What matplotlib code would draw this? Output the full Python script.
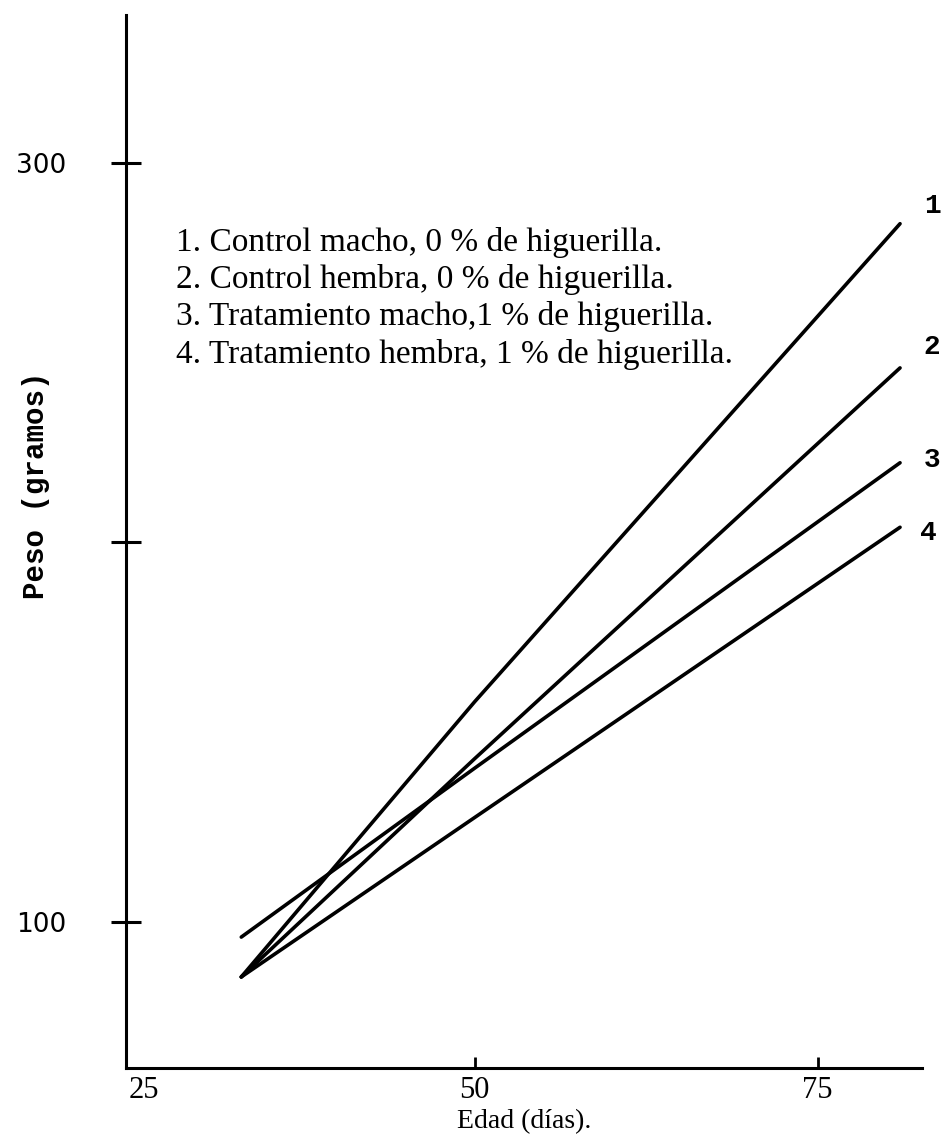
import matplotlib
matplotlib.use("Agg")
import matplotlib.pyplot as plt
import matplotlib.transforms as mtransforms

# datos (edad en dias, peso en gramos)
dias = [33, 50, 81]
control_macho = [85.5, 158, 284]
control_hembra = [85.5, 143, 246]
trat_macho = [96, 140.5, 221]
trat_hembra = [85.5, 127.5, 204]

series = [control_macho, control_hembra, trat_macho, trat_hembra]
etiquetas_lineas = ["1", "2", "3", "4"]

leyenda = ["1. Control macho, 0 % de higuerilla.",
           "2. Control hembra, 0 % de higuerilla.",
           "3. Tratamiento macho,1 % de higuerilla.",
           "4. Tratamiento hembra, 1 % de higuerilla."]

xticks = [25, 50, 75]
yticks = [100, 200, 300]
ytick_labels = ["100", "", "300"]

W, H = 944, 1146
fig = plt.figure(figsize=(W / 100, H / 100), dpi=100)

# ejes en pixeles del original
izq, der, arriba, abajo = 126, 922, 15, 1068
ax = fig.add_axes([izq / W, 1 - abajo / H, (der - izq) / W, (abajo - arriba) / H])

for valores in series:
    ax.plot(dias, valores, color="black", lw=2.6, solid_capstyle="round")

# numeros al final de cada linea
desplaz = [(32, 18), (32, 21), (32, 3), (28, -6)]
for valores, lbl, (dx, dy) in zip(series, etiquetas_lineas, desplaz):
    ax.annotate(lbl, xy=(dias[-1], valores[-1]), xytext=(dx, dy),
                textcoords="offset pixels", ha="center", va="center",
                fontsize=20, family="Liberation Mono", fontweight="bold")

ax.set_xlim(24.6, 82.6)
ax.set_ylim(61.5, 339)

for s in ["top", "right"]:
    ax.spines[s].set_visible(False)
for s in ["left", "bottom"]:
    ax.spines[s].set_linewidth(2.2)

ax.set_yticks(yticks)
ax.set_yticklabels(ytick_labels, fontsize=19, family="DejaVu Sans")
ax.tick_params(axis="y", direction="inout", length=22, width=2.2, pad=32)

ax.set_xticks(xticks)
ax.set_xticklabels([str(t) for t in xticks], fontsize=22, family="Liberation Serif")
ax.tick_params(axis="x", direction="in", length=8, width=2, pad=6)
ax.xaxis.get_major_ticks()[0].tick1line.set_visible(False)
lbl25 = ax.get_xticklabels()[0]
lbl25.set_transform(lbl25.get_transform() + mtransforms.ScaledTranslation(0.12, 0, fig.dpi_scale_trans))

ax.set_xlabel("Edad (días).", fontsize=20, family="Liberation Serif", labelpad=3)
ax.set_ylabel("Peso (gramos)", fontsize=21, family="Liberation Mono", fontweight="bold")
ax.yaxis.set_label_coords((50 - izq) / (der - izq), (abajo - 485) / (abajo - arriba))

# texto de la leyenda
for i, txt in enumerate(leyenda):
    fig.text(176 / W, 1 - (242 + 37.5 * i) / H, txt, fontsize=24,
             family="Liberation Serif", va="center", ha="left")

fig.savefig("out.png", dpi=100)
